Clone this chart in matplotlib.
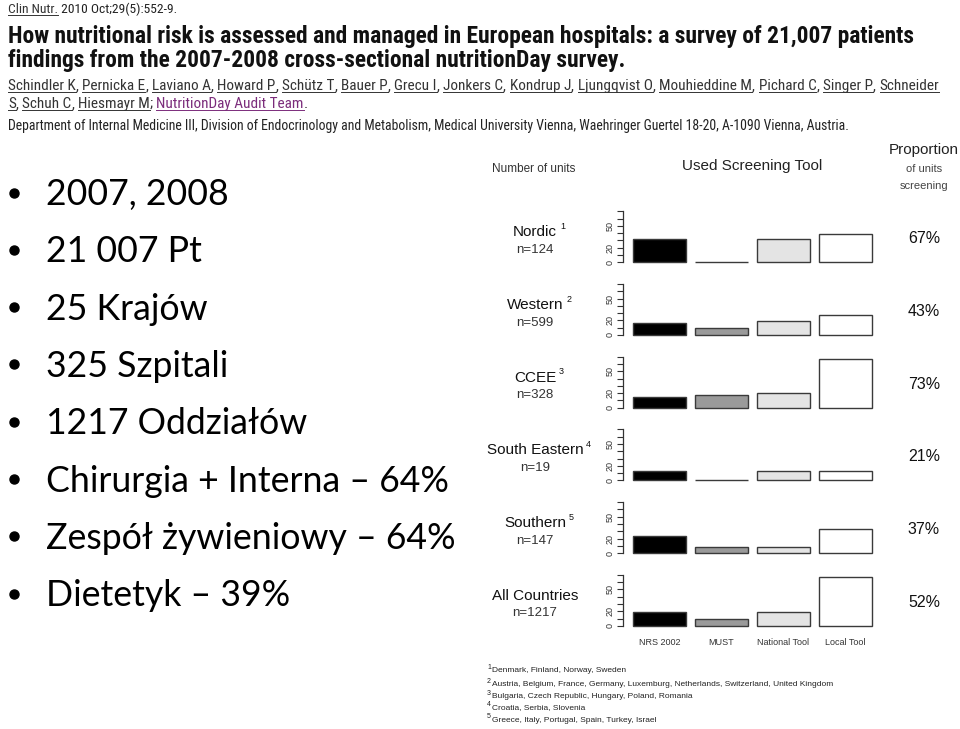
import matplotlib
matplotlib.use("Agg")
import matplotlib.pyplot as plt
from matplotlib import font_manager
from matplotlib.font_manager import FontProperties

# ---- data ----
regions = ["Nordic", "Western", "CCEE", "South Eastern", "Southern", "All Countries"]
region_notes = ["1", "2", "3", "4", "5", ""]
units = [124, 599, 328, 19, 147, 1217]
tools = ["NRS 2002", "MUST", "National Tool", "Local Tool"]
nrs2002 = [32, 16, 15, 13, 23, 19]
must = [0, 9, 17, 0, 9, 9]
national_tool = [32, 19, 20, 13, 8, 19]
local_tool = [39, 28, 67, 13, 33, 67]
proportion_screening = [67, 43, 73, 21, 37, 52]
ytick_labelled = [0, 20, 50]

bullets = ["2007, 2008", "21 007 Pt", "25 Krajów", "325 Szpitali", "1217 Oddziałów",
           "Chirurgia + Interna – 64%", "Zespół żywieniowy – 64%", "Dietetyk – 39%"]

footnotes = ["Denmark, Finland, Norway, Sweden",
             "Austria, Belgium, France, Germany, Luxemburg, Netherlands, Switzerland, United Kingdom",
             "Bulgaria, Czech Republic, Hungary, Poland, Romania",
             "Croatia, Serbia, Slovenia",
             "Greece, Italy, Portugal, Spain, Turkey, Israel"]

journal = "Clin Nutr."
citation = " 2010 Oct;29(5):552-9."
title_lines = ["How nutritional risk is assessed and managed in European hospitals: a survey of 21,007 patients",
               "findings from the 2007-2008 cross-sectional nutritionDay survey."]
authors_1 = ["Schindler K", "Pernicka E", "Laviano A", "Howard P", "Schütz T", "Bauer P", "Grecu I",
             "Jonkers C", "Kondrup J", "Ljungqvist O", "Mouhieddine M", "Pichard C", "Singer P", "Schneider"]
authors_2 = ["S", "Schuh C", "Hiesmayr M"]
audit_team = "NutritionDay Audit Team"
department = ("Department of Internal Medicine III, Division of Endocrinology and Metabolism, "
              "Medical University Vienna, Waehringer Guertel 18-20, A-1090 Vienna, Austria.")

# ---- fonts: look for a narrow face for the citation header ----
files = {f.fname.split("/")[-1]: f.fname for f in font_manager.fontManager.ttflist}


def pick(names, fallback_weight):
    for n in names:
        if n in files:
            return FontProperties(fname=files[n])
    return FontProperties(family="Liberation Sans", weight=fallback_weight)


narrow_reg = pick(["LiberationSansNarrow-Regular.ttf", "RobotoCondensed-Regular.ttf",
                   "DejaVuSansCondensed.ttf"], "normal")
narrow_bold = pick(["LiberationSansNarrow-Bold.ttf", "RobotoCondensed-Bold.ttf",
                    "DejaVuSansCondensed-Bold.ttf"], "bold")
chart_font = "Liberation Sans"
slide_font = "Lato"

W, H = 960, 729
fig = plt.figure(figsize=(W / 100, H / 100), dpi=100)
fig.patch.set_facecolor("white")
bg = fig.add_axes([0, 0, 1, 1])
bg.set_xlim(0, W)
bg.set_ylim(H, 0)
bg.axis("off")
renderer = fig.canvas.get_renderer()


def width_px(t):
    return t.get_window_extent(renderer).width


def fit_size(s, target_w, **kw):
    t = bg.text(0, 0, s, fontsize=10, **kw)
    w = width_px(t)
    t.remove()
    return 10 * target_w / w


def put(x, y, s, size, fp, color, **kw):
    p = fp.copy()
    p.set_size(size)
    return bg.text(x, y, s, fontproperties=p, color=color, va="center", **kw)


def underline(t, color):
    bb = t.get_window_extent(renderer)
    y = H - bb.y0 - 1
    bg.plot([bb.x0, bb.x1], [y, y], color=color, lw=0.7)


# ---- citation header ----
cite_size = fit_size(journal + citation, 168, fontproperties=narrow_reg)
t = put(8, 9, journal, cite_size, narrow_reg, "#333333")
underline(t, "#333333")
put(8 + width_px(t), 9, citation, cite_size, narrow_reg, "#222222")

tsize = fit_size(title_lines[0], 907, fontproperties=narrow_bold)
put(8, 36, title_lines[0], tsize, narrow_bold, "#111111")
put(8, 60, title_lines[1], tsize, narrow_bold, "#111111")

asize = fit_size(", ".join(authors_1), 932, fontproperties=narrow_reg)
comma = put(0, 0, ",", asize, narrow_reg, "k")
comma_w = width_px(comma)
comma.remove()
space_w = asize * 100 / 72 * 0.24


def author_line(names, y):
    x = 8
    for k, name in enumerate(names):
        t = put(x, y, name, asize, narrow_reg, "#333333")
        underline(t, "#333333")
        x += width_px(t)
        if k < len(names) - 1:
            put(x, y, ",", asize, narrow_reg, "#333333")
            x += comma_w + space_w
    return x


author_line(authors_1, 86)
x = author_line(authors_2, 104)
put(x, 104, ";", asize, narrow_reg, "#333333")
x += comma_w + space_w
t = put(x, 104, audit_team, asize, narrow_reg, "#7b2c7b")
underline(t, "#7b2c7b")
put(x + width_px(t), 104, ".", asize, narrow_reg, "#333333")

dsize = fit_size(department, 837, fontproperties=narrow_reg)
put(8, 126, department, dsize, narrow_reg, "#222222")

# ---- bullet list ----
bsize = fit_size(bullets[5], 402, family=slide_font)
for i, s in enumerate(bullets):
    y = 205 + i * 57.3
    bg.plot(14, y - 12.5, "o", ms=6.5, color="black")
    bg.text(46, y, s, fontsize=bsize, family=slide_font, va="baseline")

# ---- chart headers ----
bg.text(534, 169, "Number of units", fontsize=8.5, family=chart_font, color="#333333", ha="center", va="center")
bg.text(752, 166, "Used Screening Tool", fontsize=11, family=chart_font, color="#222222", ha="center", va="center")
bg.text(924, 150, "Proportion", fontsize=11, family=chart_font, color="#222222", ha="center", va="center")
bg.text(924, 169, "of units", fontsize=8, family=chart_font, color="#444444", ha="center", va="center")
bg.text(924, 186, "screening", fontsize=8, family=chart_font, color="#444444", ha="center", va="center")

# ---- small bar panels ----
bar_colors = ["black", "#9a9a9a", "#e4e4e4", "white"]
x_left, x_right = 623, 875
first_bottom, step, panel_h = 262.3, 72.7, 51

for i, region in enumerate(regions):
    b = first_bottom + i * step
    ax = fig.add_axes([x_left / W, 1 - b / H, (x_right - x_left) / W, panel_h / H])
    vals = [nrs2002[i], must[i], national_tool[i], local_tool[i]]
    ax.bar(range(len(tools)), vals, width=0.855, color=bar_colors,
           edgecolor="#3a3a3a", linewidth=1.0, clip_on=False)
    ax.set_xlim(-0.589, 3.476)
    ax.set_ylim(0, 70)
    ax.patch.set_alpha(0)
    for s in ["top", "right", "bottom"]:
        ax.spines[s].set_visible(False)
    ax.spines["left"].set_color("#333333")
    ax.spines["left"].set_linewidth(0.9)
    ticks = list(range(0, 71, 10))
    ax.set_yticks(ticks)
    ax.set_yticklabels([str(v) if v in ytick_labelled else "" for v in ticks],
                       rotation=90, fontsize=6.5, family=chart_font, va="center", color="#333333")
    ax.tick_params(axis="y", length=4, width=0.8, pad=2, color="#333333")
    if i == len(regions) - 1:
        ax.set_xticks(range(len(tools)))
        ax.set_xticklabels(tools, fontsize=6.5, family=chart_font, color="#333333")
        ax.tick_params(axis="x", length=0, pad=8.5)
    else:
        ax.set_xticks([])

    name = bg.text(535, b - 30, region, fontsize=11, family=chart_font, color="#111111",
                   ha="center", va="center")
    if region_notes[i]:
        nb = name.get_window_extent(renderer)
        bg.text(nb.x1 + 3, b - 36, region_notes[i], fontsize=6.5, family=chart_font,
                color="#111111", va="center")
    bg.text(535, b - 12.5, f"n={units[i]}", fontsize=9.5, family=chart_font, color="#333333",
            ha="center", va="center")
    bg.text(924, b - 23.5, f"{proportion_screening[i]}%", fontsize=11.5, family=chart_font,
            color="#111111", ha="center", va="center")

# ---- footnotes ----
foot_y = [671, 685, 697, 708, 720]
for k, s in enumerate(footnotes):
    bg.text(487, foot_y[k] - 3.5, region_notes[k], fontsize=5, family=chart_font, color="#222222", va="center")
    bg.text(492, foot_y[k], s, fontsize=6, family=chart_font, color="#222222", va="center")

fig.savefig("out.png", dpi=100, facecolor="white")
